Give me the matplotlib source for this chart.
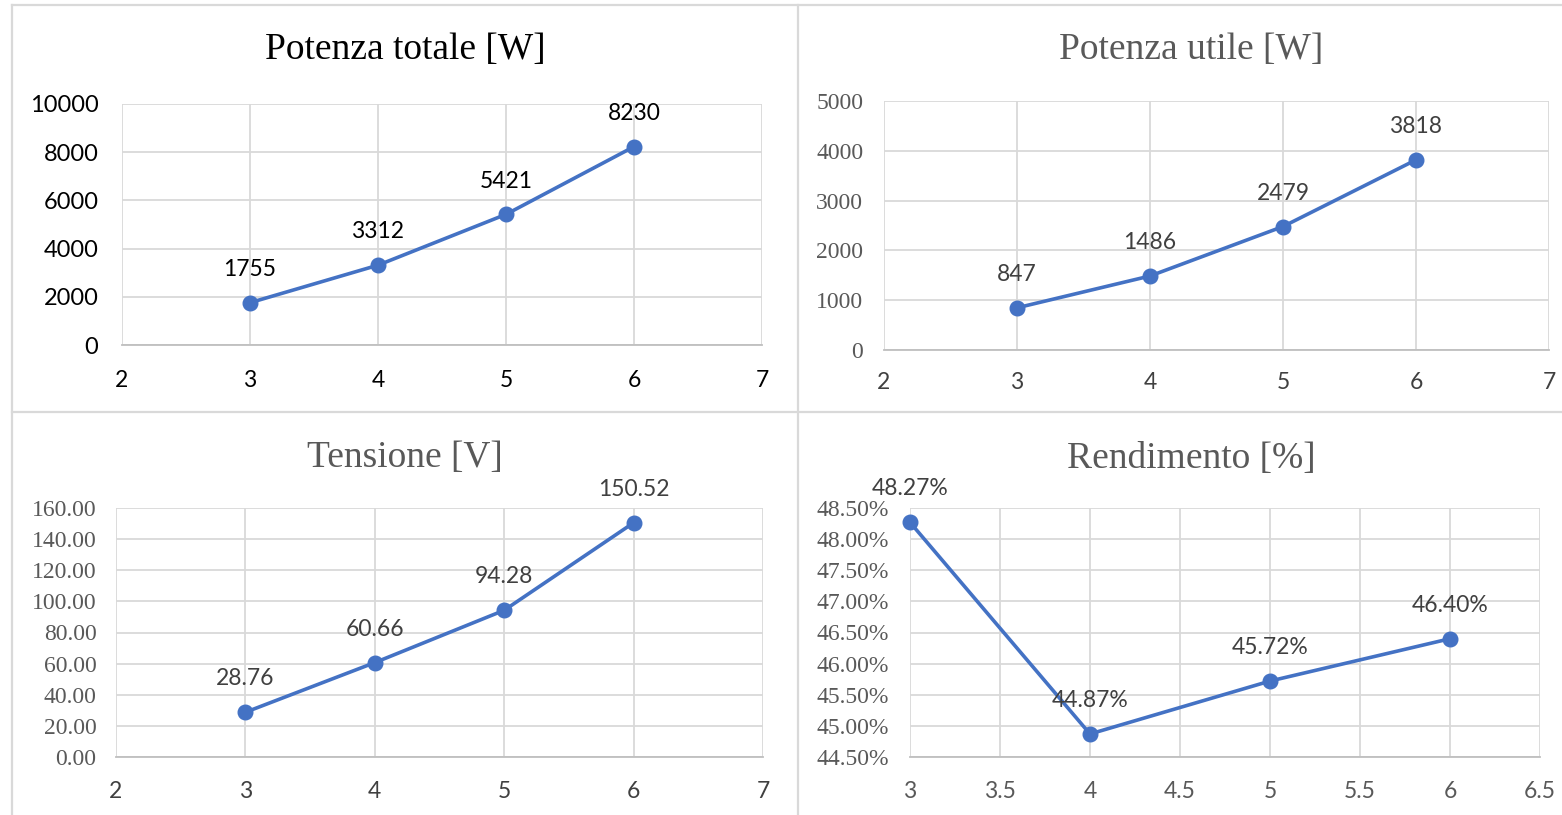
import matplotlib
matplotlib.use("Agg")
import matplotlib.pyplot as plt
from matplotlib.lines import Line2D
from matplotlib.ticker import FuncFormatter

## Data ##
portata = [3, 4, 5, 6]
potenza_totale = [1755, 3312, 5421, 8230]
potenza_utile = [847, 1486, 2479, 3818]
tensione = [28.76, 60.66, 94.28, 150.52]
rendimento = [48.27, 44.87, 45.72, 46.40]

titles = ["Potenza totale [W]", "Potenza utile [W]", "Tensione [V]", "Rendimento [%]"]

W, H = 1562, 815
BLUE = "#4472C4"
GRID = "#D9D9D9"
GRAY = "#595959"
DARK = "#404040"
SERIF = "Liberation Serif"
SANS = "Lato"

fig = plt.figure(figsize=(W / 100, H / 100), dpi=100)
fig.patch.set_facecolor("white")


def px_axes(left, right, top, bottom):
    # axes placed by pixel edges (origin top-left)
    return fig.add_axes([left / W, 1 - bottom / H, (right - left) / W, (bottom - top) / H])


def style(ax, xlim, xticks, ylim, yticks, yfmt, yfont, ycolor, xcolor, ypad, xpad):
    ax.set_xlim(*xlim)
    ax.set_ylim(*ylim)
    ax.set_xticks(xticks)
    ax.set_yticks(yticks)
    ax.yaxis.set_major_formatter(FuncFormatter(yfmt))
    ax.xaxis.set_major_formatter(FuncFormatter(lambda v, p: f"{v:g}"))
    ax.grid(True, color=GRID, linewidth=1.3, zorder=0)
    ax.set_axisbelow(True)
    for side in ["top", "left", "right"]:
        ax.spines[side].set_visible(False)
    ax.spines["bottom"].set_color("#BFBFBF")
    ax.spines["bottom"].set_linewidth(1.3)
    ax.tick_params(length=0)
    ax.tick_params(axis="y", pad=ypad, labelcolor=ycolor)
    ax.tick_params(axis="x", pad=xpad, labelcolor=xcolor)
    for lab in ax.get_yticklabels():
        lab.set_fontfamily(yfont)
        lab.set_fontsize(17)
    for lab in ax.get_xticklabels():
        lab.set_fontfamily(SANS)
        lab.set_fontsize(16.5)


def plot_series(ax, ys, fmt, color):
    ax.plot(portata, ys, color=BLUE, linewidth=2.6, marker="o", markersize=10.5,
            clip_on=False, zorder=3)
    for xv, yv in zip(portata, ys):
        ax.annotate(fmt(yv), (xv, yv), xytext=(0, 24), textcoords="offset points",
                    ha="center", va="center", fontsize=16.5, family=SANS, color=color,
                    zorder=4)


# Potenza totale
ax1 = px_axes(122, 762, 104, 345)
plot_series(ax1, potenza_totale, lambda v: f"{v:d}", "black")
style(ax1, (2, 7), range(2, 8), (0, 10000), range(0, 10001, 2000),
      lambda v, p: f"{v:.0f}", SANS, "black", "black", 17, 18)

# Potenza utile
ax2 = px_axes(884, 1549, 101, 350)
plot_series(ax2, potenza_utile, lambda v: f"{v:d}", DARK)
style(ax2, (2, 7), range(2, 8), (0, 5000), range(0, 5001, 1000),
      lambda v, p: f"{v:.0f}", SERIF, GRAY, DARK, 15, 16)

# Tensione
ax3 = px_axes(116, 763, 508, 757)
plot_series(ax3, tensione, lambda v: f"{v:.2f}", DARK)
style(ax3, (2, 7), range(2, 8), (0, 160), range(0, 161, 20),
      lambda v, p: f"{v:.2f}", SERIF, GRAY, DARK, 14, 17)

# Rendimento
ax4 = px_axes(910, 1540, 508, 757)
plot_series(ax4, rendimento, lambda v: f"{v:.2f}%", DARK)
style(ax4, (3, 6.5), [3, 3.5, 4, 4.5, 5, 5.5, 6, 6.5], (44.5, 48.5),
      [44.5 + 0.5 * i for i in range(9)],
      lambda v, p: f"{v:.2f}%", SERIF, GRAY, GRAY, 15, 17)

# Titles
title_pos = [(405, 50, "black"), (1191, 50, GRAY), (405, 458, GRAY), (1191, 459, GRAY)]
for (tx, ty, tc), t in zip(title_pos, titles):
    fig.text(tx / W, 1 - ty / H, t, ha="center", va="center",
             fontsize=27, family=SERIF, color=tc)

# Panel frame lines
frame = dict(color=GRID, linewidth=1.6)
fig.add_artist(Line2D([12 / W, 12 / W], [0, 1 - 5 / H], **frame))
fig.add_artist(Line2D([798 / W, 798 / W], [0, 1 - 5 / H], **frame))
fig.add_artist(Line2D([12 / W, 1], [1 - 5 / H, 1 - 5 / H], **frame))
fig.add_artist(Line2D([12 / W, 1], [1 - 411.5 / H, 1 - 411.5 / H], **frame))

fig.savefig("out.png", dpi=100)
